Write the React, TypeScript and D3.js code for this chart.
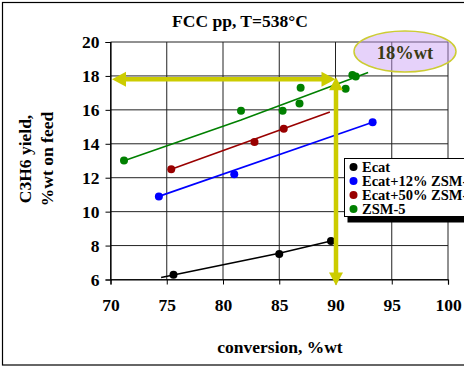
import React, { useEffect, useRef } from 'react';
import * as d3 from 'd3';

interface Pt { x: number; y: number; }
interface Series { name: string; color: string; points: Pt[]; trend: Pt[]; }

const xTicks = [70, 75, 80, 85, 90, 95, 100];
const yTicks = [6, 8, 10, 12, 14, 16, 18, 20];

const ecatPoints: Pt[] = [{ x: 75.6, y: 6.28 }, { x: 85.0, y: 7.5 }, { x: 89.6, y: 8.27 }];
const ecatTrend: Pt[] = [{ x: 74.5, y: 6.12 }, { x: 85.0, y: 7.55 }, { x: 89.6, y: 8.27 }];

const ecat12Points: Pt[] = [{ x: 74.3, y: 10.9 }, { x: 81.0, y: 12.2 }, { x: 93.3, y: 15.27 }];
const ecat12Trend: Pt[] = [{ x: 74.3, y: 10.9 }, { x: 93.3, y: 15.27 }];

const ecat50Points: Pt[] = [{ x: 75.4, y: 12.5 }, { x: 82.8, y: 14.1 }, { x: 85.4, y: 14.88 }];
const ecat50Trend: Pt[] = [{ x: 75.4, y: 12.5 }, { x: 89.5, y: 15.88 }];

const zsmPoints: Pt[] = [
  { x: 71.2, y: 13.02 }, { x: 81.6, y: 15.95 }, { x: 85.3, y: 15.95 }, { x: 86.8, y: 16.37 },
  { x: 86.9, y: 17.3 }, { x: 90.9, y: 17.25 }, { x: 91.5, y: 18.05 }, { x: 91.8, y: 17.97 },
];
const zsmTrend: Pt[] = [{ x: 71.2, y: 13.0 }, { x: 81.6, y: 15.4 }, { x: 92.9, y: 18.2 }];

const seriesNames = ['Ecat', 'Ecat+12% ZSM-5', 'Ecat+50% ZSM-5', 'ZSM-5'];
const seriesColors = ['#000000', '#0000ff', '#990000', '#008000'];

const arrowY = 17.8;
const arrowX = 90;

const App: React.FC = () => {
  const svgRef = useRef<SVGSVGElement>(null);

  useEffect(() => {
    if (!svgRef.current) return;
    const width = 464;
    const height = 367;
    const font = '"Liberation Serif", "Times New Roman", serif';

    const svg = d3.select(svgRef.current);
    svg.selectAll('*').remove();

    svg.append('rect').attr('width', width).attr('height', height).attr('fill', '#ffffff');
    // outer frame (right side runs off the picture)
    svg.append('rect')
      .attr('x', 2.5).attr('y', 2.5).attr('width', 480).attr('height', 362.5)
      .attr('fill', 'none').attr('stroke', '#000').attr('stroke-width', 1.2);

    const x = d3.scaleLinear().domain([70, 100]).range([110.5, 448]);
    const y = d3.scaleLinear().domain([6, 20]).range([279.5, 42]);

    const series: Series[] = [
      { name: seriesNames[0], color: seriesColors[0], points: ecatPoints, trend: ecatTrend },
      { name: seriesNames[1], color: seriesColors[1], points: ecat12Points, trend: ecat12Trend },
      { name: seriesNames[2], color: seriesColors[2], points: ecat50Points, trend: ecat50Trend },
      { name: seriesNames[3], color: seriesColors[3], points: zsmPoints, trend: zsmTrend },
    ];

    // grid
    const grid = svg.append('g');
    grid.selectAll('line.h').data(yTicks).enter().append('line')
      .attr('x1', x(70)).attr('x2', x(100))
      .attr('y1', d => y(d)).attr('y2', d => y(d))
      .attr('stroke', '#222').attr('stroke-width', 1);
    grid.selectAll('line.v').data(xTicks).enter().append('line')
      .attr('y1', y(6)).attr('y2', y(20))
      .attr('x1', d => x(d)).attr('x2', d => x(d))
      .attr('stroke', '#222').attr('stroke-width', 1);

    // axes
    const xAxis = svg.append('g')
      .attr('transform', `translate(0,${y(6)})`)
      .call(d3.axisBottom(x).tickValues(xTicks).tickSize(5).tickPadding(14).tickFormat(d3.format('d')));
    const yAxis = svg.append('g')
      .attr('transform', `translate(${x(70)},0)`)
      .call(d3.axisLeft(y).tickValues(yTicks).tickSize(5).tickPadding(6).tickFormat(d3.format('d')));
    [xAxis, yAxis].forEach(a => {
      a.select('.domain').attr('stroke', '#000').attr('stroke-width', 1.2);
      a.selectAll('.tick line').attr('stroke', '#000');
      a.selectAll('text')
        .attr('font-family', font).attr('font-weight', 'bold')
        .attr('font-size', 17.5).attr('fill', '#000');
    });

    const line = d3.line<Pt>().x(d => x(d.x)).y(d => y(d.y));

    series.forEach(s => {
      svg.append('path').datum(s.trend)
        .attr('d', line).attr('fill', 'none')
        .attr('stroke', s.color).attr('stroke-width', 1.6);
      svg.append('g').selectAll('circle').data(s.points).enter().append('circle')
        .attr('cx', d => x(d.x)).attr('cy', d => y(d.y)).attr('r', 4)
        .attr('fill', s.color);
    });

    // yellow arrows
    const yellow = '#cccc00';
    const hy = y(arrowY);
    const hx1 = x(70) + 1.5;
    const hx2 = x(arrowX);
    svg.append('line')
      .attr('x1', hx1 + 12).attr('x2', hx2 - 12).attr('y1', hy).attr('y2', hy)
      .attr('stroke', yellow).attr('stroke-width', 4.5);
    svg.append('path')
      .attr('d', `M${hx1},${hy} L${hx1 + 14},${hy - 7.5} L${hx1 + 14},${hy + 7.5} Z`)
      .attr('fill', yellow);
    svg.append('path')
      .attr('d', `M${hx2},${hy} L${hx2 - 14},${hy - 7.5} L${hx2 - 14},${hy + 7.5} Z`)
      .attr('fill', yellow);

    const vx = x(arrowX) + 0.5;
    const vTop = hy - 2;
    const vBot = y(6) + 6;
    svg.append('line')
      .attr('x1', vx).attr('x2', vx).attr('y1', vTop + 12).attr('y2', vBot - 12)
      .attr('stroke', yellow).attr('stroke-width', 4.5);
    svg.append('path')
      .attr('d', `M${vx},${vTop} L${vx - 7},${vTop + 13} L${vx + 7},${vTop + 13} Z`)
      .attr('fill', yellow);
    svg.append('path')
      .attr('d', `M${vx},${vBot} L${vx - 7},${vBot - 13} L${vx + 7},${vBot - 13} Z`)
      .attr('fill', yellow);

    // highlight ellipse
    svg.append('ellipse')
      .attr('cx', 405).attr('cy', 51.5).attr('rx', 51).attr('ry', 20.5)
      .attr('fill', '#c79cf5').attr('fill-opacity', 0.45)
      .attr('stroke', '#cccc33').attr('stroke-width', 1.5);
    svg.append('text')
      .attr('x', 405).attr('y', 58.5).attr('text-anchor', 'middle')
      .attr('font-family', font).attr('font-weight', 'bold').attr('font-size', 18.5)
      .attr('fill', '#3a3a14').text('18%wt');

    // legend (runs off the right edge, as in the original slide)
    const lg = svg.append('g').attr('transform', 'translate(344.5,158.5)');
    lg.append('rect').attr('x', 3).attr('y', 4).attr('width', 140).attr('height', 60).attr('fill', '#000');
    lg.append('rect').attr('width', 140).attr('height', 58)
      .attr('fill', '#fff').attr('stroke', '#000').attr('stroke-width', 1);
    const items = lg.selectAll('g.item').data(series).enter().append('g')
      .attr('transform', (_, i) => `translate(0,${8.5 + i * 14})`);
    items.append('circle').attr('cx', 9).attr('cy', 0).attr('r', 4).attr('fill', d => d.color);
    items.append('text').attr('x', 17.5).attr('y', 4.5)
      .attr('font-family', font).attr('font-weight', 'bold').attr('font-size', 14.5)
      .attr('fill', '#000').text(d => d.name);

    // titles
    svg.append('text')
      .attr('x', 240).attr('y', 27).attr('text-anchor', 'middle')
      .attr('font-family', font).attr('font-weight', 'bold').attr('font-size', 17.5)
      .text('FCC pp, T=538°C');
    svg.append('text')
      .attr('x', 280).attr('y', 353).attr('text-anchor', 'middle')
      .attr('font-family', font).attr('font-weight', 'bold').attr('font-size', 17.5)
      .text('conversion, %wt');
    const yt = svg.append('text')
      .attr('transform', 'translate(0,159) rotate(-90)')
      .attr('text-anchor', 'middle')
      .attr('font-family', font).attr('font-weight', 'bold').attr('font-size', 17.5);
    yt.append('tspan').attr('x', 0).attr('y', 31).text('C3H6 yield,');
    yt.append('tspan').attr('x', 0).attr('y', 53).text('%wt on feed');
  }, []);

  return (
    <div style={{ position: 'fixed', left: 0, top: 0, width: 464, height: 367 }}>
      <svg ref={svgRef} width={464} height={367} style={{ display: 'block' }} />
    </div>
  );
};

export default App;
